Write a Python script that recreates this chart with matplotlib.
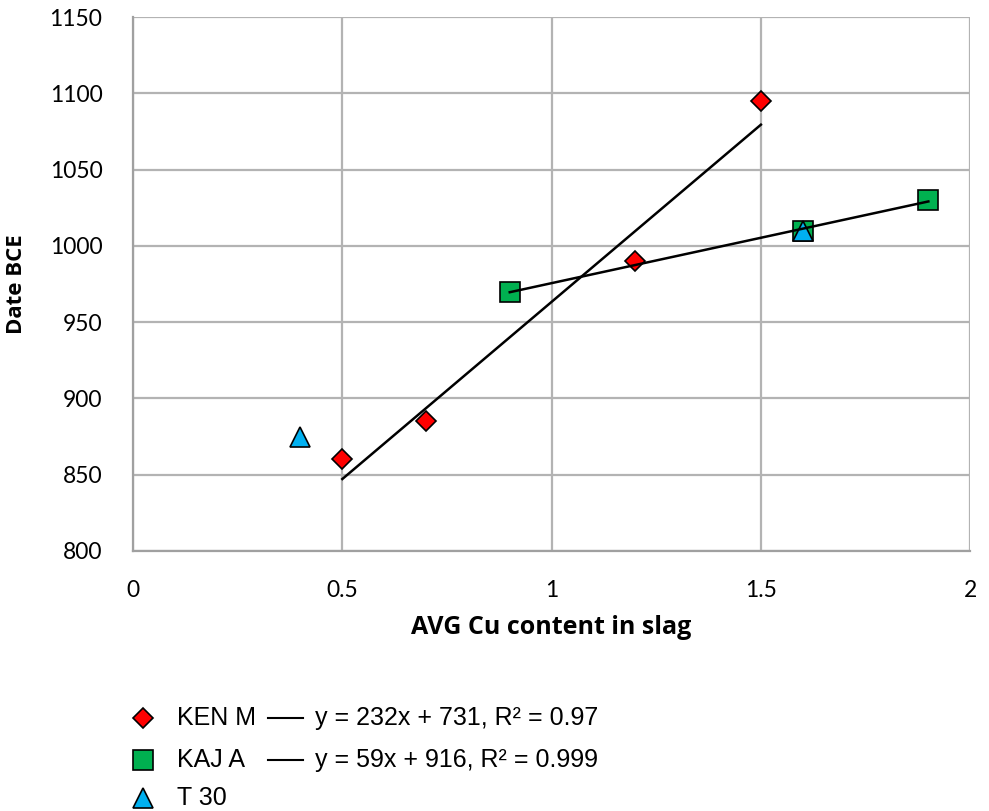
import numpy as np
import matplotlib
matplotlib.use('Agg')
import matplotlib.pyplot as plt
from matplotlib.lines import Line2D

# data
ken_x = [0.5, 0.7, 1.2, 1.5]
ken_y = [860, 885, 990, 1095]
kaj_x = [0.9, 1.6, 1.9]
kaj_y = [970, 1010, 1030]
t30_x = [0.4, 1.6]
t30_y = [875, 1010]

names = ['KEN M', 'KAJ A', 'T 30']
eqs = ['y = 232x + 731, R² = 0.97', 'y = 59x + 916, R² = 0.999']
x_ticks = [0, 0.5, 1, 1.5, 2]
x_ticklabels = ['0', '0.5', '1', '1.5', '2']
y_ticks = [800, 850, 900, 950, 1000, 1050, 1100, 1150]

plt.rcParams['font.family'] = ['Lato', 'DejaVu Sans']

fig = plt.figure(figsize=(9.89, 8.11), dpi=100)
ax = fig.add_axes([0.1345, 0.3206, 0.8465, 0.6584])

ax.plot(ken_x, ken_y, 'D', ms=10.5, mfc='#ff0000', mec='black', mew=1.2, zorder=3)
ax.plot(kaj_x, kaj_y, 's', ms=14, mfc='#00b050', mec='black', mew=1.2, zorder=3)
ax.plot(t30_x, t30_y, '^', ms=14, mfc='#00b0f0', mec='black', mew=1.2, zorder=3)

# linear trendlines over the range of each series
for xs, ys in [(ken_x, ken_y), (kaj_x, kaj_y)]:
    k, b = np.polyfit(xs, ys, 1)
    xx = np.array([min(xs), max(xs)])
    ax.plot(xx, k * xx + b, color='black', lw=1.8, zorder=4)

ax.set_xlim(0, 2)
ax.set_ylim(800, 1150)
ax.set_xticks(x_ticks)
ax.set_xticklabels(x_ticklabels)
ax.set_yticks(y_ticks)
ax.grid(True, color='#b3b3b3', lw=1.6)
ax.set_axisbelow(True)
for s in ax.spines.values():
    s.set_visible(False)
for side in ['left', 'bottom']:
    ax.spines[side].set_visible(True)
    ax.spines[side].set_color('#a0a0a0')
    ax.spines[side].set_linewidth(1.6)
ax.tick_params(length=0, labelsize=16.5)
ax.tick_params(axis='x', pad=21)
ax.tick_params(axis='y', pad=22)

ax.set_xlabel('AVG Cu content in slag', fontsize=18, fontweight='bold',
              family=['Open Sans', 'DejaVu Sans'], labelpad=10)
ax.set_ylabel('Date BCE', fontsize=16, fontweight='bold',
              family=['Open Sans', 'DejaVu Sans'], labelpad=16)

# hand-placed legend under the chart
leg_font = ['Liberation Sans', 'DejaVu Sans']
rows = [0.1145, 0.0635, 0.0165]
styles = [('D', 10.5, '#ff0000'), ('s', 14, '#00b050'), ('^', 14, '#00b0f0')]
for i, (m, ms, c) in enumerate(styles):
    y = rows[i]
    fig.add_artist(Line2D([0.1446], [y], transform=fig.transFigure, marker=m, ms=ms,
                          mfc=c, mec='black', mew=1.2, ls='none'))
    fig.text(0.179, y, names[i], fontsize=18, va='center', family=leg_font)
    if i < 2:
        fig.add_artist(Line2D([0.271, 0.306], [y, y], transform=fig.transFigure,
                              color='black', lw=1.5))
        fig.text(0.3185, y, eqs[i], fontsize=18, va='center', family=leg_font)

fig.savefig('out.png', dpi=100)
